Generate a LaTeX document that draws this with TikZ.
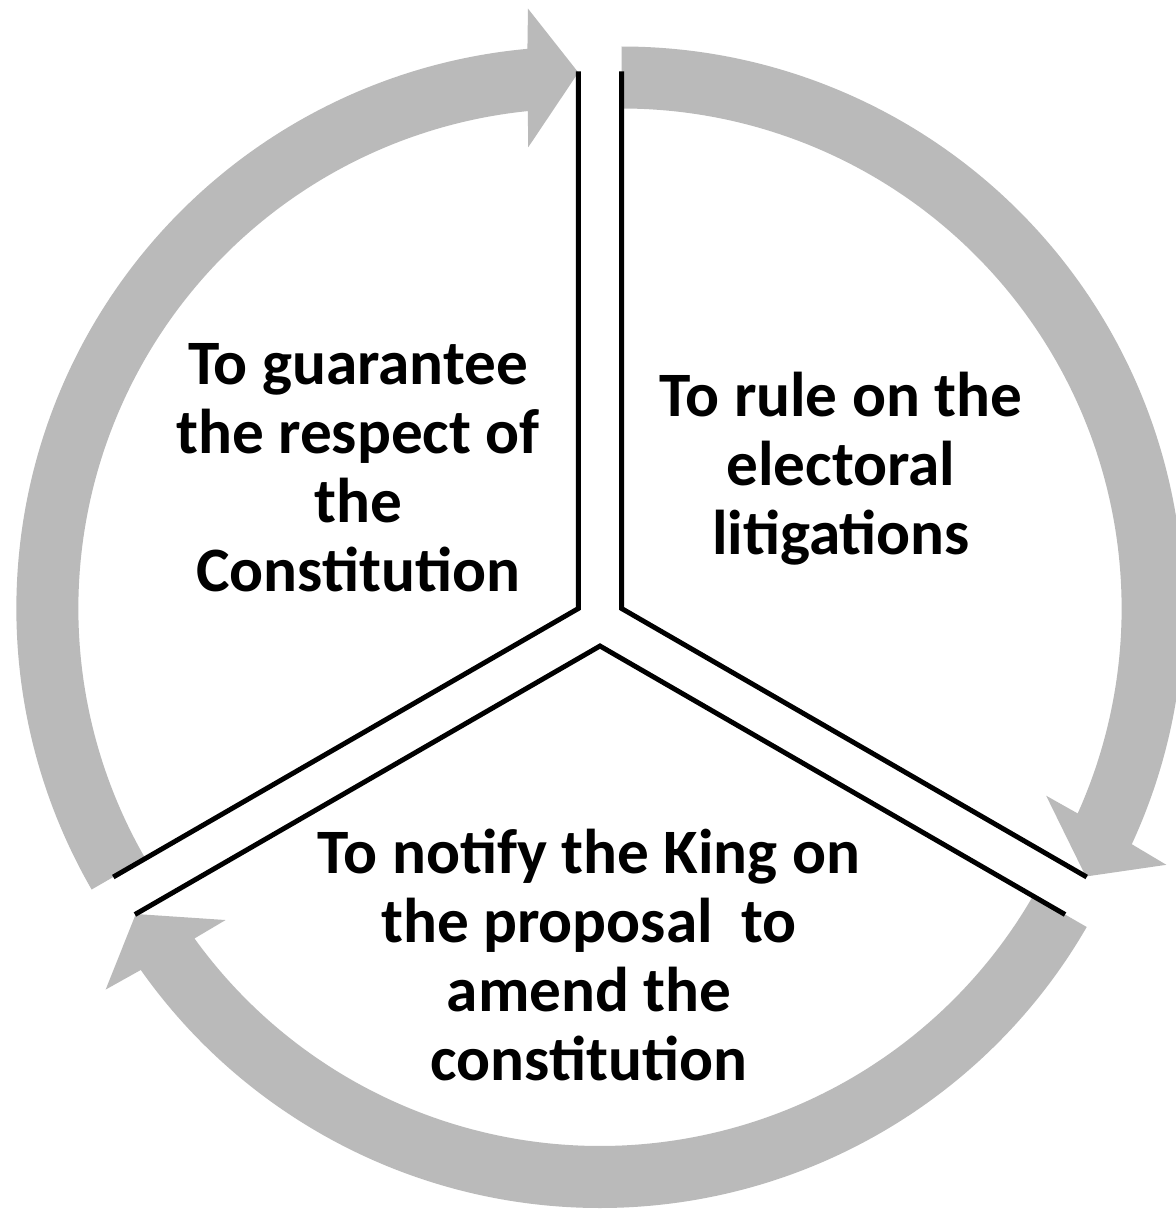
\documentclass[tikz,border=0pt]{standalone}
\usepackage{fontspec}
\setmainfont{Carlito}
\usepackage{tikz}

\begin{document}
\begin{tikzpicture}[
		arc_style/.style={fill=black!27},
		line_style/.style={draw=black,line width=1.4pt},
		text_style/.style={align=center,font=\fontsize{18}{19.6}\selectfont\bfseries}]

		\useasboundingbox[fill=white] (-6.00,-5.88) rectangle (5.76,6.21);

		\coordinate (v1) at (-0.2165,0.125);
		\coordinate (v2) at (0.2165,0.125);
		\coordinate (v3) at (0,-0.25);

		% gray arrows
		\fill[arc_style,shift={(v1)}] (210:5.62) arc[start angle=210,end angle=95.2,radius=5.62] -- (94.8:6.02) -- (90:5.36) -- (96.2:4.64) -- (95.8:5.0) arc[start angle=95.8,end angle=210,radius=5.0] -- cycle;
		\fill[arc_style,shift={(v2)}] (90:5.62) arc[start angle=90,end angle=-24.8,radius=5.62] -- (-25.2:6.02) -- (-30:5.36) -- (-23.8:4.64) -- (-24.2:5.0) arc[start angle=-24.2,end angle=90,radius=5.0] -- cycle;
		\fill[arc_style,shift={(v3)}] (-30:5.62) arc[start angle=-30,end angle=-144.8,radius=5.62] -- (-145.2:6.02) -- (-150:5.36) -- (-143.8:4.64) -- (-144.2:5.0) arc[start angle=-144.2,end angle=-30,radius=5.0] -- cycle;

		% sector borders
		\draw[line_style,shift={(v1)}] (90:5.37) -- (0,0) -- (210:5.37);
		\draw[line_style,shift={(v2)}] (90:5.37) -- (0,0) -- (-30:5.37);
		\draw[line_style,shift={(v3)}] (210:5.37) -- (0,0) -- (-30:5.37);

		\node[text_style] (t1) at (-2.42,1.53) {To guarantee\\the respect of\\the\\Constitution};
		\node[text_style] (t2) at (2.41,1.52) {To rule on the\\electoral\\litigations};
		\node[text_style] (t3) at (-0.11,-3.34) {To notify the King on\\the proposal~ to\\amend the\\constitution};

\end{tikzpicture}
\end{document}
